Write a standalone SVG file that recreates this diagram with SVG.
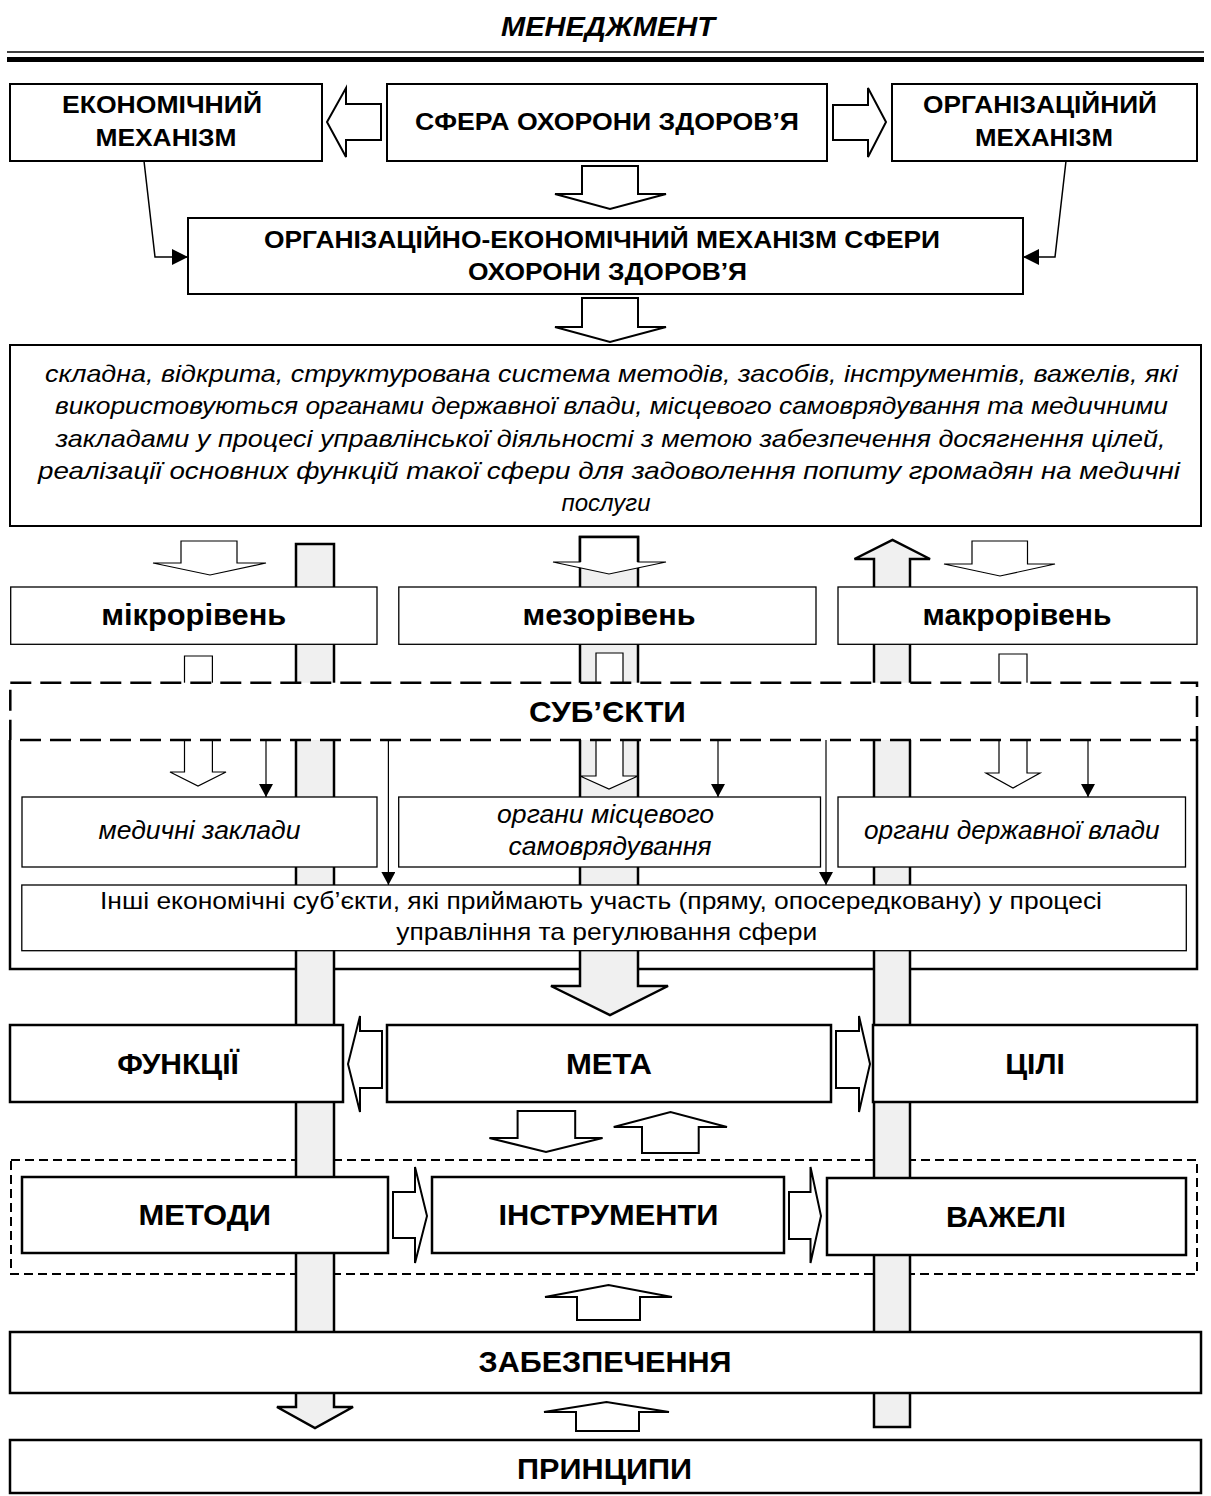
<svg xmlns="http://www.w3.org/2000/svg" width="1211" height="1496" viewBox="0 0 1211 1496">
<style>
text{font-family:"Liberation Sans",Arial,sans-serif;fill:#000;text-anchor:middle}
.b{font-weight:bold}
.i{font-style:italic}
.box{fill:#fff;stroke:#000;stroke-width:2}
.boxt{fill:#fff;stroke:#000;stroke-width:1.3}
.boxk{fill:#fff;stroke:#000;stroke-width:2.5}
.ha{fill:#fff;stroke:#000;stroke-width:2;stroke-linejoin:miter}
.hat{fill:#fff;stroke:#000;stroke-width:1.2}
.bar{fill:#f0f0f0;stroke:#000;stroke-width:2.5}
.con{fill:none;stroke:#000;stroke-width:1.5}
.cont{fill:none;stroke:#000;stroke-width:1.2}
</style>
<defs>
<marker id="ah" markerUnits="userSpaceOnUse" markerWidth="16" markerHeight="16" refX="16" refY="8" orient="auto"><path d="M0,0 L16,8 L0,16 z" fill="#000"/></marker>
<marker id="ahs" markerUnits="userSpaceOnUse" markerWidth="13" markerHeight="14" refX="13" refY="7" orient="auto"><path d="M0,0 L13,7 L0,14 z" fill="#000"/></marker>
</defs>
<rect width="1211" height="1496" fill="#fff"/>

<g id="header">
<text class="b i" x="608" y="36" font-size="27" textLength="214" lengthAdjust="spacingAndGlyphs">МЕНЕДЖМЕНТ</text>
<line x1="7" y1="52" x2="1204" y2="52" stroke="#000" stroke-width="1.6"/>
<line x1="7" y1="59.5" x2="1204" y2="59.5" stroke="#000" stroke-width="5"/>
</g>

<g id="n-econ">
<rect class="box" x="10" y="84" width="312" height="77"/>
<text class="b" x="162" y="113" font-size="24" textLength="200" lengthAdjust="spacingAndGlyphs">ЕКОНОМІЧНИЙ</text>
<text class="b" x="166" y="145.5" font-size="24" textLength="141" lengthAdjust="spacingAndGlyphs">МЕХАНІЗМ</text>
</g>
<g id="n-sfera">
<rect class="box" x="387" y="84" width="440" height="77"/>
<text class="b" x="607" y="130" font-size="24" textLength="384" lengthAdjust="spacingAndGlyphs">СФЕРА ОХОРОНИ ЗДОРОВ’Я</text>
</g>
<g id="n-org">
<rect class="box" x="892" y="84" width="305" height="77"/>
<text class="b" x="1040" y="113" font-size="24" textLength="234" lengthAdjust="spacingAndGlyphs">ОРГАНІЗАЦІЙНИЙ</text>
<text class="b" x="1044" y="146" font-size="24" textLength="138" lengthAdjust="spacingAndGlyphs">МЕХАНІЗМ</text>
</g>
<g id="n-orgecon">
<rect class="box" x="188" y="218" width="835" height="76"/>
<text class="b" x="602" y="248" font-size="24" textLength="676" lengthAdjust="spacingAndGlyphs">ОРГАНІЗАЦІЙНО-ЕКОНОМІЧНИЙ МЕХАНІЗМ СФЕРИ</text>
<text class="b" x="607.5" y="280" font-size="24" textLength="279" lengthAdjust="spacingAndGlyphs">ОХОРОНИ ЗДОРОВ’Я</text>
</g>
<g id="n-desc">
<rect class="box" x="10" y="345" width="1191" height="181"/>
<text class="i" x="611.5" y="382" font-size="24" textLength="1133" lengthAdjust="spacingAndGlyphs">складна, відкрита, структурована система методів, засобів, інструментів, важелів, які</text>
<text class="i" x="611.5" y="414" font-size="24" textLength="1113" lengthAdjust="spacingAndGlyphs">використовуються органами державної влади, місцевого самоврядування та медичними</text>
<text class="i" x="610.5" y="447" font-size="24" textLength="1110" lengthAdjust="spacingAndGlyphs">закладами у процесі управлінської діяльності з метою забезпечення досягнення цілей,</text>
<text class="i" x="609" y="479" font-size="24" textLength="1142" lengthAdjust="spacingAndGlyphs">реалізації основних функцій такої сфери для задоволення попиту громадян на медичні</text>
<text class="i" x="606" y="511" font-size="24">послуги</text>
</g>

<g id="n-methods-group">
<rect x="11" y="1160" width="1186" height="114" fill="none" stroke="#000" stroke-width="2" stroke-dasharray="9 5"/>
</g>
<g id="n-subjects-container">
<path d="M10,740 V969 H1197 V740" fill="none" stroke="#000" stroke-width="2.5"/>
</g>

<g id="connectors">
<polygon class="ha" points="381,104 346,104 346,88 327,122 346,157 346,140 381,140"/>
<polygon class="ha" points="833,105 868,105 868,88 886,122 868,157 868,140 833,140"/>
<polygon class="ha" points="582,166 638,166 638,194 666,194 610,209 555,194 582,194"/>
<polygon class="ha" points="582,298 638,298 638,327 666,327 610,342 555,327 582,327"/>
<polyline class="con" points="144,161 155,257 188,257" marker-end="url(#ah)"/>
<polyline class="con" points="1066,161 1055,257 1023,257" marker-end="url(#ah)"/>

<polygon class="hat" points="181,541 237,541 237,563 266,563 210,575 153,563 181,563"/>
<polygon class="hat" points="972,541 1027.5,541 1027.5,564 1055,564 1000,576 944,564 972,564"/>
<polygon class="hat" points="184.5,656 212.4,656 212.4,772 226,772 198,786 170,772 184.5,772"/>
<polygon class="hat" points="999,654 1027,654 1027,773 1040,773 1013,788 986,773 999,773"/>

<polygon class="bar" points="296,544 334,544 334,1407 353,1407 315,1428 277,1407 296,1407"/>
<polygon class="bar" points="580,537 638,537 638,986 668,986 610,1015 551,986 580,986"/>
<polygon class="bar" points="874,1427 874,559 854.5,559 892.5,540 930,559 910,559 910,1427"/>

<polygon class="hat" points="580,537 638,537 638,562 666,562 609,574 553,562 580,562"/>
<path d="M580,562 V537 H638 V562" fill="none" stroke="#000" stroke-width="2.5"/>
<polygon class="hat" points="596,653 623,653 623,776 638,776 609,789 580,776 596,776"/>

<line class="cont" x1="266" y1="740" x2="266" y2="797" marker-end="url(#ahs)"/>
<line class="cont" x1="388.4" y1="740" x2="388.4" y2="885" marker-end="url(#ahs)"/>
<line class="cont" x1="718" y1="740" x2="718" y2="797" marker-end="url(#ahs)"/>
<line class="cont" x1="826" y1="740" x2="826" y2="885" marker-end="url(#ahs)"/>
<line class="cont" x1="1088" y1="740" x2="1088" y2="797" marker-end="url(#ahs)"/>

<polygon class="ha" points="382,1031 360,1031 360,1016 348,1064 360,1112 360,1088 382,1088"/>
<polygon class="ha" points="836,1031 859,1031 859,1016 870,1064 859,1112 859,1088 836,1088"/>
<polygon class="ha" points="517.6,1111 575.2,1111 575.2,1138 602.6,1138 546,1152 489.4,1138 517.6,1138"/>
<polygon class="ha" points="642,1153 698.7,1153 698.7,1127 727,1127 670.5,1112 613.7,1127 642,1127"/>
<polygon class="ha" points="393,1192 415,1192 415,1167 427,1216 415,1263 415,1238 393,1238"/>
<polygon class="ha" points="789,1192 810.5,1192 810.5,1167 821,1216 810.5,1263 810.5,1239 789,1239"/>
<polygon class="ha" points="577,1320 640,1320 640,1297 672,1297 608.5,1285 545,1297 577,1297"/>
<polygon class="ha" points="576,1431 639,1431 639,1412 669,1412 606.5,1402 544,1412 576,1412"/>
</g>

<g id="n-micro">
<rect class="boxt" x="10.7" y="587" width="366.3" height="57.3"/>
<text class="b" x="193.7" y="625" font-size="29" textLength="185" lengthAdjust="spacingAndGlyphs">мікрорівень</text>
</g>
<g id="n-meso">
<rect class="boxt" x="398.8" y="587" width="417.2" height="57.3"/>
<text class="b" x="609" y="625" font-size="29" textLength="173" lengthAdjust="spacingAndGlyphs">мезорівень</text>
</g>
<g id="n-macro">
<rect class="boxt" x="838" y="587" width="359" height="57.3"/>
<text class="b" x="1017" y="625" font-size="29" textLength="189" lengthAdjust="spacingAndGlyphs">макрорівень</text>
</g>
<g id="n-subjects">
<rect x="10.3" y="682.7" width="1186.7" height="57.3" fill="#fff" stroke="#000" stroke-width="2.5" stroke-dasharray="21 9"/>
<text class="b" x="607.4" y="721.7" font-size="30" textLength="157" lengthAdjust="spacingAndGlyphs">СУБ’ЄКТИ</text>
</g>
<g id="n-medical">
<rect class="boxt" x="22" y="797" width="355" height="70"/>
<text class="i" x="199.5" y="839" font-size="26" textLength="202" lengthAdjust="spacingAndGlyphs">медичні заклади</text>
</g>
<g id="n-local">
<rect class="boxt" x="398.7" y="797" width="421.8" height="70"/>
<text class="i" x="605.6" y="822.7" font-size="26" textLength="217" lengthAdjust="spacingAndGlyphs">органи місцевого</text>
<text class="i" x="610" y="855" font-size="26" textLength="203" lengthAdjust="spacingAndGlyphs">самоврядування</text>
</g>
<g id="n-state">
<rect class="boxt" x="838" y="797" width="347.5" height="70"/>
<text class="i" x="1011.8" y="839" font-size="26" textLength="295.5" lengthAdjust="spacingAndGlyphs">органи державної влади</text>
</g>
<g id="n-other">
<rect class="boxt" x="21.8" y="885" width="1164.5" height="65.7"/>
<text x="601" y="909" font-size="24" textLength="1002" lengthAdjust="spacingAndGlyphs">Інші економічні суб’єкти, які приймають участь (пряму, опосередковану) у процесі</text>
<text x="606.8" y="939.5" font-size="24" textLength="421" lengthAdjust="spacingAndGlyphs">управління та регулювання сфери</text>
</g>

<g id="n-functions">
<rect class="boxk" x="10" y="1025" width="333" height="77"/>
<text class="b" x="178" y="1074" font-size="30">ФУНКЦІЇ</text>
</g>
<g id="n-goal">
<rect class="boxk" x="387" y="1025" width="444" height="77"/>
<text class="b" x="609" y="1074" font-size="30" textLength="86" lengthAdjust="spacingAndGlyphs">МЕТА</text>
</g>
<g id="n-targets">
<rect class="boxk" x="873" y="1025" width="324" height="77"/>
<text class="b" x="1035" y="1074" font-size="30">ЦІЛІ</text>
</g>
<g id="n-methods">
<rect class="boxk" x="22" y="1177" width="366" height="76"/>
<text class="b" x="204.8" y="1225" font-size="30" textLength="132.5" lengthAdjust="spacingAndGlyphs">МЕТОДИ</text>
</g>
<g id="n-instruments">
<rect class="boxk" x="432" y="1177" width="352" height="76"/>
<text class="b" x="608.5" y="1224.5" font-size="30" textLength="220" lengthAdjust="spacingAndGlyphs">ІНСТРУМЕНТИ</text>
</g>
<g id="n-levers">
<rect class="boxk" x="827" y="1178" width="359" height="77"/>
<text class="b" x="1006" y="1226.5" font-size="30" textLength="120" lengthAdjust="spacingAndGlyphs">ВАЖЕЛІ</text>
</g>
<g id="n-support">
<rect class="boxk" x="10" y="1332" width="1191" height="61"/>
<text class="b" x="605" y="1372" font-size="30" textLength="253" lengthAdjust="spacingAndGlyphs">ЗАБЕЗПЕЧЕННЯ</text>
</g>
<g id="n-principles">
<rect class="boxk" x="10" y="1440" width="1191" height="53"/>
<text class="b" x="604.6" y="1479" font-size="30" textLength="175" lengthAdjust="spacingAndGlyphs">ПРИНЦИПИ</text>
</g>
</svg>
